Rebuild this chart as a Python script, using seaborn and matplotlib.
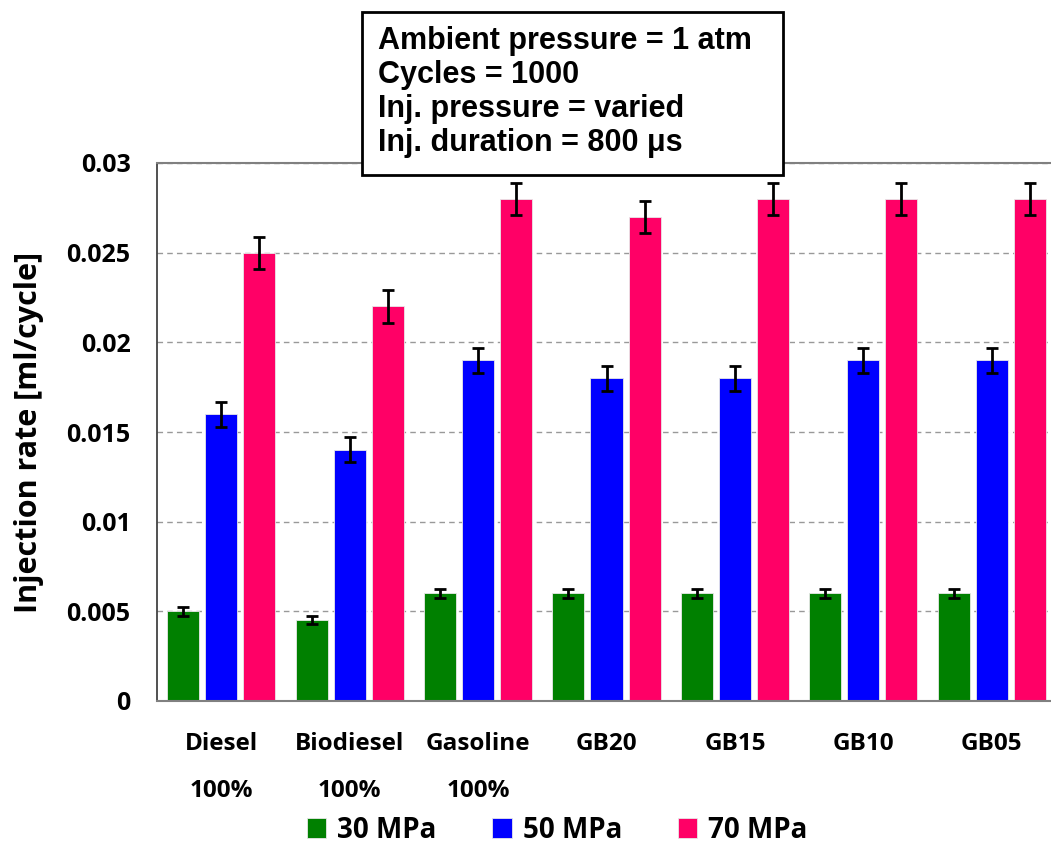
import pandas as pd
import numpy as np
import matplotlib
matplotlib.use("Agg")
import matplotlib.pyplot as plt
import seaborn as sns
from matplotlib.patches import Rectangle

# Dados
combustiveis = ["Diesel\n100%", "Biodiesel\n100%", "Gasoline\n100%",
                "GB20", "GB15", "GB10", "GB05"]
pressoes = ["30 MPa", "50 MPa", "70 MPa"]
taxa_30 = [0.005, 0.0045, 0.006, 0.006, 0.006, 0.006, 0.006]
taxa_50 = [0.016, 0.014, 0.019, 0.018, 0.018, 0.019, 0.019]
taxa_70 = [0.025, 0.022, 0.028, 0.027, 0.028, 0.028, 0.028]
erro_30 = [0.00025, 0.00022, 0.00025, 0.00025, 0.00025, 0.00025, 0.00025]
erro_50 = [0.0007, 0.0007, 0.0007, 0.0007, 0.0007, 0.0007, 0.0007]
erro_70 = [0.0009, 0.0009, 0.0009, 0.0009, 0.0009, 0.0009, 0.0009]

cores = {"30 MPa": "#008000", "50 MPa": "#0000FF", "70 MPa": "#FF0066"}

df = pd.DataFrame({
    "Combustivel": combustiveis * 3,
    "Pressao": [p for p in pressoes for _ in combustiveis],
    "Taxa": taxa_30 + taxa_50 + taxa_70,
})
erros = [erro_30, erro_50, erro_70]

sns.set_style("white")
plt.rcParams["font.family"] = ["Open Sans", "DejaVu Sans"]
plt.rcParams["text.color"] = "black"
plt.rcParams["xtick.color"] = "black"
plt.rcParams["ytick.color"] = "black"
plt.rcParams["axes.labelcolor"] = "black"

fig = plt.figure(figsize=(10.51, 8.48), dpi=100)
ax = fig.add_axes([157 / 1051, 1 - 701 / 848, 899 / 1051, 538 / 848])

sns.barplot(
    data=df, x="Combustivel", y="Taxa", hue="Pressao",
    palette=cores, width=0.888, gap=0.158, errorbar=None, saturation=1,
    edgecolor="#e8e8e8", linewidth=0.6, ax=ax, legend=True,
)

# Barras de erro
for cont, err in zip(ax.containers, erros):
    xs = [b.get_x() + b.get_width() / 2 for b in cont]
    ys = [b.get_height() for b in cont]
    ax.errorbar(xs, ys, yerr=err, fmt="none", ecolor="black",
                elinewidth=2, capsize=4, capthick=2, zorder=5)

ax.set_xlim(-0.5, 6.5)
ax.set_ylim(0, 0.03)
ax.set_yticks([0, 0.005, 0.01, 0.015, 0.02, 0.025, 0.03])
ax.set_yticklabels(["0", "0.005", "0.01", "0.015", "0.02", "0.025", "0.03"],
                   fontsize=18, fontweight="bold")
ax.set_xticks(range(len(combustiveis)))
ax.set_xticklabels(combustiveis, fontsize=17.5, fontweight="bold", linespacing=2.3,
                   va="top")
ax.tick_params(axis="x", length=0, pad=22)
ax.tick_params(axis="y", length=0, pad=19)
ax.set_xlabel("")
ax.set_ylabel("Injection rate [ml/cycle]", fontsize=22, fontweight="bold", labelpad=16)

ax.grid(axis="y", color="#999999", linestyle=(0, (4, 3)), linewidth=1)
ax.set_axisbelow(True)
for lado in ["top", "bottom"]:
    ax.spines[lado].set_color("#808080")
    ax.spines[lado].set_linewidth(1.5)
ax.spines["left"].set_color("#333333")
ax.spines["left"].set_linewidth(1.2)
ax.spines["right"].set_visible(False)

# Legenda
handles, labels = ax.get_legend_handles_labels()
ax.get_legend().remove()
fig.legend(handles, labels, loc="center", bbox_to_anchor=(0.53, 1 - 830 / 848),
           ncol=3, frameon=False, handlelength=0.7, handleheight=0.7,
           handletextpad=0.4, columnspacing=2.0,
           prop={"size": 20, "weight": "bold"})

# Caixa de condições
fig.patches.append(Rectangle((362 / 1051, 1 - 175 / 848), 421 / 1051, 163 / 848,
                             transform=fig.transFigure, facecolor="white",
                             edgecolor="black", linewidth=2, zorder=10))
condicoes = ["Ambient pressure = 1 atm", "Cycles = 1000",
             "Inj. pressure = varied", "Inj. duration = 800 μs"]
for i, linha in enumerate(condicoes):
    fig.text(378 / 1051, 1 - (49 + 34 * i) / 848, linha, fontsize=22,
             fontweight="bold", family="Liberation Sans", va="baseline",
             zorder=11)

fig.savefig("out.png", dpi=100)
